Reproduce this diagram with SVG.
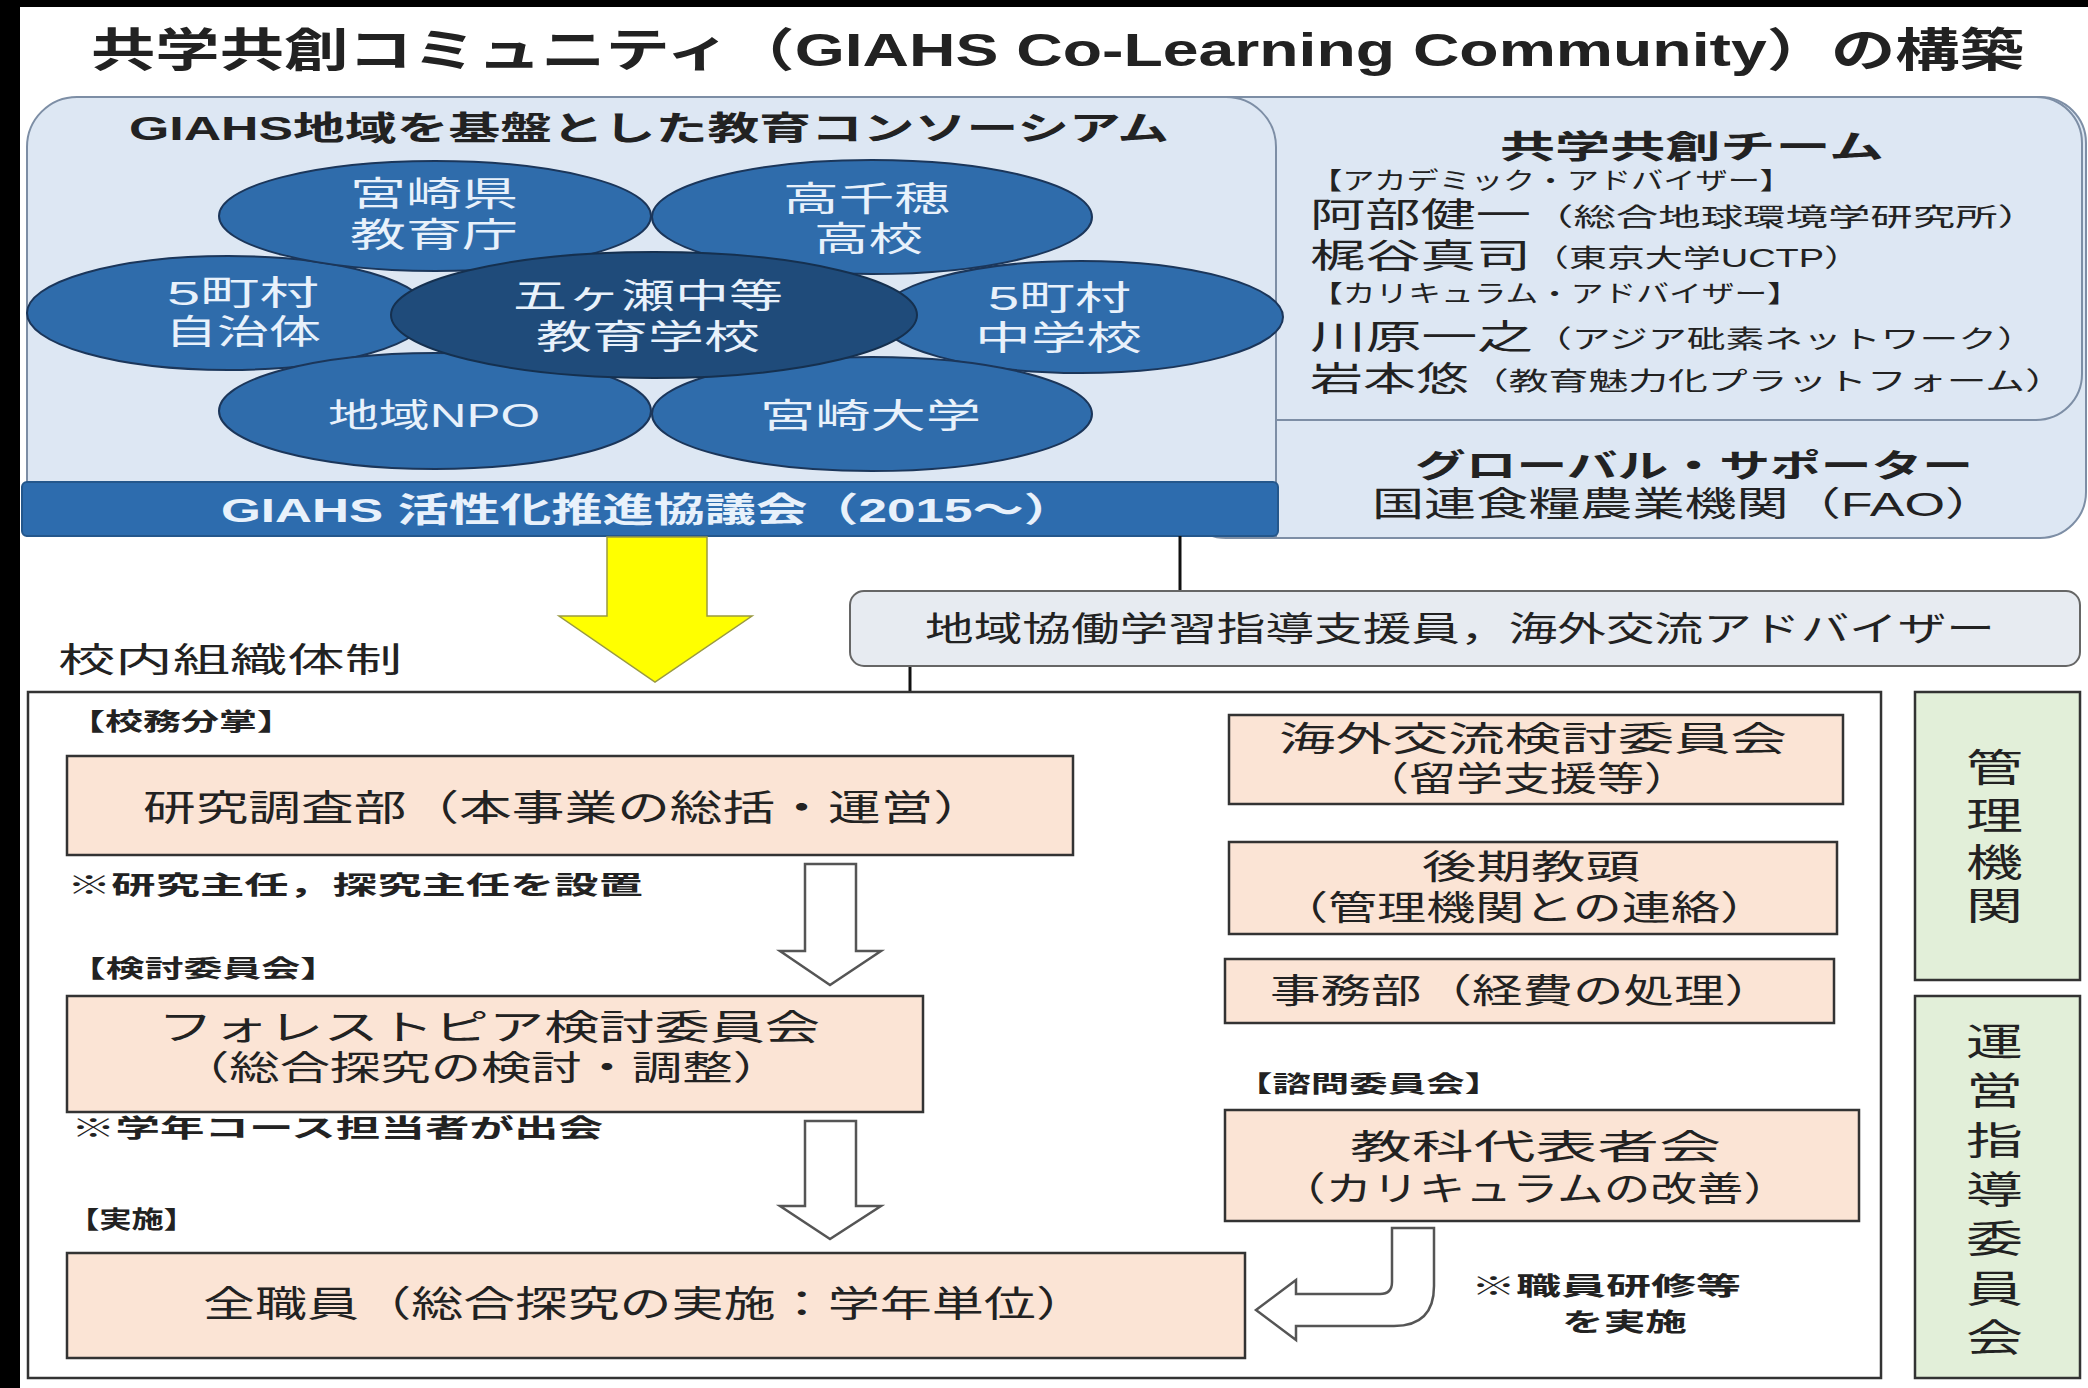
<svg xmlns="http://www.w3.org/2000/svg" width="2088" height="1388" viewBox="0 0 2088 1388">
<style>
.t{font-family:"Liberation Sans","Noto Sans CJK JP",sans-serif;fill:#222}
.b{font-weight:bold}
.w{fill:#e8f1fb}
.peach{fill:#fbe4d5;stroke:#333;stroke-width:2.5}
.green{fill:#e2efd9;stroke:#333;stroke-width:2.5}
.ell{fill:#2f6cab;stroke:#1b365a;stroke-width:2}
.conn{stroke:#111;stroke-width:3;fill:none}
.hollow{fill:#fff;stroke:#555;stroke-width:2.5;stroke-linejoin:miter}
.panel{fill:#dde7f3;stroke:#7d8ea5;stroke-width:2}
</style>
<rect x="0" y="0" width="2088" height="1388" fill="#fff"/>
<rect x="0" y="0" width="2088" height="7" fill="#000"/>
<rect x="0" y="0" width="20" height="1388" fill="#000"/>

<text id="title" class="t b" x="91" y="66" font-size="46" textLength="1933" lengthAdjust="spacingAndGlyphs">共学共創コミュニティ（GIAHS Co-Learning Community）の構築</text>

<g id="team-panel">
<rect class="panel" x="1180" y="97" width="906" height="441" rx="46"/>
<rect class="panel" x="1180" y="97" width="902" height="323" rx="46"/>
<text class="t"><tspan class="b" x="1500" y="158" font-size="32" textLength="384" lengthAdjust="spacingAndGlyphs">共学共創チーム</tspan><tspan x="1310" y="189" font-size="24" textLength="482" lengthAdjust="spacingAndGlyphs">【アカデミック・アドバイザー】</tspan><tspan x="1310" y="227" font-size="34" textLength="221" lengthAdjust="spacingAndGlyphs">阿部健一</tspan><tspan x="1531" y="226" font-size="25" textLength="509" lengthAdjust="spacingAndGlyphs">（総合地球環境学研究所）</tspan><tspan x="1310" y="268" font-size="34" textLength="221" lengthAdjust="spacingAndGlyphs">梶谷真司</tspan><tspan x="1531" y="267" font-size="25" textLength="331" lengthAdjust="spacingAndGlyphs">（東京大学UCTP）</tspan><tspan x="1310" y="302" font-size="24" textLength="490" lengthAdjust="spacingAndGlyphs">【カリキュラム・アドバイザー】</tspan><tspan x="1310" y="349" font-size="34" textLength="223" lengthAdjust="spacingAndGlyphs">川原一之</tspan><tspan x="1533" y="348" font-size="25" textLength="503" lengthAdjust="spacingAndGlyphs">（アジア砒素ネットワーク）</tspan><tspan x="1310" y="391" font-size="34" textLength="159" lengthAdjust="spacingAndGlyphs">岩本悠</tspan><tspan x="1469" y="390" font-size="25" textLength="596" lengthAdjust="spacingAndGlyphs">（教育魅力化プラットフォーム）</tspan></text>
<text class="t"><tspan class="b" x="1415" y="477" font-size="32" textLength="558" lengthAdjust="spacingAndGlyphs">グローバル・サポーター</tspan><tspan x="1372" y="516" font-size="34" textLength="625" lengthAdjust="spacingAndGlyphs">国連食糧農業機関（FAO）</tspan></text>
</g>

<g id="consortium">
<path class="panel" d="M27,536 L27,147 A50,50 0 0 1 77,97 L1226,97 A50,50 0 0 1 1276,147 L1276,536 Z"/>
<text class="t b" x="129" y="140" font-size="33" textLength="1040" lengthAdjust="spacingAndGlyphs">GIAHS地域を基盤とした教育コンソーシアム</text>
</g>

<g id="node-5towns-gov">
<ellipse class="ell" cx="228" cy="313" rx="201" ry="57"/>
<text class="t w" font-size="34"><tspan x="167" y="305" textLength="152" lengthAdjust="spacingAndGlyphs">5町村</tspan><tspan x="165" y="344" textLength="156" lengthAdjust="spacingAndGlyphs">自治体</tspan></text>
</g>
<g id="node-5towns-jhs">
<ellipse class="ell" cx="1081" cy="317" rx="202" ry="56"/>
<text class="t w" font-size="34"><tspan x="988" y="310" textLength="143" lengthAdjust="spacingAndGlyphs">5町村</tspan><tspan x="975" y="350" textLength="167" lengthAdjust="spacingAndGlyphs">中学校</tspan></text>
</g>
<g id="node-miyazaki-pref">
<ellipse class="ell" cx="435" cy="216" rx="216" ry="55"/>
<text class="t w" font-size="34"><tspan x="350" y="206" textLength="168" lengthAdjust="spacingAndGlyphs">宮崎県</tspan><tspan x="350" y="247" textLength="168" lengthAdjust="spacingAndGlyphs">教育庁</tspan></text>
</g>
<g id="node-takachiho">
<ellipse class="ell" cx="872" cy="217" rx="220" ry="57"/>
<text class="t w" font-size="34"><tspan x="783" y="211" textLength="167" lengthAdjust="spacingAndGlyphs">高千穂</tspan><tspan x="814" y="251" textLength="109" lengthAdjust="spacingAndGlyphs">高校</tspan></text>
</g>
<g id="node-npo">
<ellipse class="ell" cx="435" cy="411" rx="216" ry="58"/>
<text class="t w" x="328" y="427" font-size="33" textLength="212" lengthAdjust="spacingAndGlyphs">地域NPO</text>
</g>
<g id="node-miyazaki-univ">
<ellipse class="ell" cx="872" cy="414" rx="220" ry="57"/>
<text class="t w" x="760" y="428" font-size="34" textLength="221" lengthAdjust="spacingAndGlyphs">宮崎大学</text>
</g>
<g id="node-gokase">
<ellipse cx="654" cy="315" rx="263" ry="63" fill="#1f4b7a" stroke="#15304f" stroke-width="2"/>
<text class="t w" font-size="34"><tspan x="513" y="308" textLength="270" lengthAdjust="spacingAndGlyphs">五ヶ瀬中等</tspan><tspan x="536" y="349" textLength="224" lengthAdjust="spacingAndGlyphs">教育学校</tspan></text>
</g>

<g id="giahs-council">
<rect x="22" y="482" width="1256" height="54" rx="5" fill="#2d6cae" stroke="#24578c" stroke-width="2"/>
<text class="t b w" x="221" y="522" font-size="34" textLength="854" lengthAdjust="spacingAndGlyphs">GIAHS 活性化推進協議会（2015～）</text>
</g>

<g id="yellow-arrow">
<polygon points="607,537 707,537 707,616 752,616 655,682 559,616 607,616" fill="#ffff00" stroke="#9a9a40" stroke-width="1.5"/>
</g>

<g id="connectors">
<line class="conn" x1="1180" y1="536" x2="1180" y2="591"/>
<line class="conn" x1="910" y1="666" x2="910" y2="756"/>
<line class="conn" x1="1074" y1="806" x2="1229" y2="759"/>
<line class="conn" x1="1074" y1="806" x2="1229" y2="884"/>
<line class="conn" x1="1074" y1="806" x2="1225" y2="992"/>
<line class="conn" x1="923" y1="1054" x2="1225" y2="1163"/>
</g>

<g id="support-staff">
<rect x="850" y="591" width="1230" height="75" rx="14" fill="#e7ebf1" stroke="#666" stroke-width="2"/>
<text class="t" x="925" y="641" font-size="34" textLength="1070" lengthAdjust="spacingAndGlyphs">地域協働学習指導支援員，海外交流アドバイザー</text>
</g>

<text id="school-org-label" class="t" x="58" y="672" font-size="34" textLength="344" lengthAdjust="spacingAndGlyphs">校内組織体制</text>

<g id="school-org">
<rect x="28" y="692" width="1853" height="686" fill="#fff" stroke="#333" stroke-width="2.5"/>
<text class="t b" x="67" y="730" font-size="24" textLength="228" lengthAdjust="spacingAndGlyphs">【校務分掌】</text>
<text class="t b" x="67" y="894" font-size="25" textLength="576" lengthAdjust="spacingAndGlyphs">※研究主任，探究主任を設置</text>
<text class="t b" x="67" y="977" font-size="24" textLength="272" lengthAdjust="spacingAndGlyphs">【検討委員会】</text>
<text class="t b" x="71" y="1137" font-size="25" textLength="532" lengthAdjust="spacingAndGlyphs">※学年コース担当者が出会</text>
<text class="t b" x="67" y="1228" font-size="24" textLength="129" lengthAdjust="spacingAndGlyphs">【実施】</text>
<text class="t b" x="1234" y="1092" font-size="23" textLength="269" lengthAdjust="spacingAndGlyphs">【諮問委員会】</text>
<text class="t b" font-size="25"><tspan x="1471" y="1295" textLength="270" lengthAdjust="spacingAndGlyphs">※職員研修等</tspan><tspan x="1562" y="1331" textLength="125" lengthAdjust="spacingAndGlyphs">を実施</tspan></text>
</g>

<g id="connectors-arrows">
<polygon class="hollow" points="805,864 856,864 856,951 881,951 830,985 780,951 805,951"/>
<polygon class="hollow" points="805,1121 856,1121 856,1206 881,1206 830,1239 780,1206 805,1206"/>
<path class="hollow" d="M1434,1228 L1434,1286 Q1434,1326 1394,1326 L1296,1326 L1296,1340 L1256,1310 L1296,1280 L1296,1294 L1380,1294 Q1392,1294 1392,1282 L1392,1228 Z"/>
</g>

<g id="node-research">
<rect class="peach" x="67" y="756" width="1006" height="99"/>
<text class="t" x="143" y="821" font-size="36" textLength="843" lengthAdjust="spacingAndGlyphs">研究調査部（本事業の総括・運営）</text>
</g>
<g id="node-forestopia">
<rect class="peach" x="67" y="996" width="856" height="116"/>
<text class="t"><tspan x="158" y="1040" font-size="35" textLength="662" lengthAdjust="spacingAndGlyphs">フォレストピア検討委員会</tspan><tspan x="179" y="1080" font-size="34" textLength="604" lengthAdjust="spacingAndGlyphs">（総合探究の検討・調整）</tspan></text>
</g>
<g id="node-allstaff">
<rect class="peach" x="67" y="1253" width="1178" height="105"/>
<text class="t" x="203" y="1317" font-size="36" textLength="885" lengthAdjust="spacingAndGlyphs">全職員（総合探究の実施：学年単位）</text>
</g>
<g id="node-exchange">
<rect class="peach" x="1229" y="715" width="614" height="89"/>
<text class="t" font-size="34"><tspan x="1279" y="751" textLength="508" lengthAdjust="spacingAndGlyphs">海外交流検討委員会</tspan><tspan x="1362" y="791" textLength="329" lengthAdjust="spacingAndGlyphs">（留学支援等）</tspan></text>
</g>
<g id="node-vice-principal">
<rect class="peach" x="1229" y="842" width="608" height="92"/>
<text class="t" font-size="34"><tspan x="1422" y="879" textLength="218" lengthAdjust="spacingAndGlyphs">後期教頭</tspan><tspan x="1279" y="920" textLength="490" lengthAdjust="spacingAndGlyphs">（管理機関との連絡）</tspan></text>
</g>
<g id="node-office">
<rect class="peach" x="1225" y="959" width="609" height="64"/>
<text class="t" x="1270" y="1003" font-size="34" textLength="505" lengthAdjust="spacingAndGlyphs">事務部（経費の処理）</text>
</g>
<g id="node-subject-reps">
<rect class="peach" x="1225" y="1110" width="634" height="111"/>
<text class="t" font-size="34"><tspan x="1350" y="1159" textLength="371" lengthAdjust="spacingAndGlyphs">教科代表者会</tspan><tspan x="1279" y="1201" textLength="511" lengthAdjust="spacingAndGlyphs">（カリキュラムの改善）</tspan></text>
</g>

<g id="node-admin">
<rect class="green" x="1915" y="692" width="165" height="288"/>
<text class="t" font-size="38"><tspan x="1966" y="781" textLength="57" lengthAdjust="spacingAndGlyphs">管</tspan><tspan x="1966" y="829" textLength="57" lengthAdjust="spacingAndGlyphs">理</tspan><tspan x="1966" y="876" textLength="57" lengthAdjust="spacingAndGlyphs">機</tspan><tspan x="1966" y="919" textLength="57" lengthAdjust="spacingAndGlyphs">関</tspan></text>
</g>
<g id="node-steering">
<rect class="green" x="1915" y="996" width="165" height="382"/>
<text class="t" font-size="38"><tspan x="1966" y="1055" textLength="57" lengthAdjust="spacingAndGlyphs">運</tspan><tspan x="1966" y="1104" textLength="57" lengthAdjust="spacingAndGlyphs">営</tspan><tspan x="1966" y="1154" textLength="57" lengthAdjust="spacingAndGlyphs">指</tspan><tspan x="1966" y="1203" textLength="57" lengthAdjust="spacingAndGlyphs">導</tspan><tspan x="1966" y="1252" textLength="57" lengthAdjust="spacingAndGlyphs">委</tspan><tspan x="1966" y="1302" textLength="57" lengthAdjust="spacingAndGlyphs">員</tspan><tspan x="1966" y="1351" textLength="57" lengthAdjust="spacingAndGlyphs">会</tspan></text>
</g>
</svg>
